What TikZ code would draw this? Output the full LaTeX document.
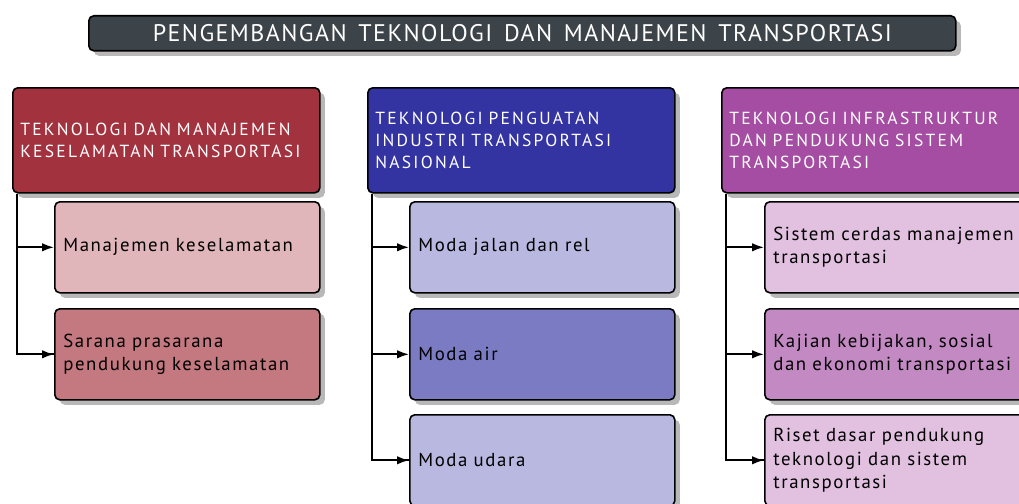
\documentclass[tikz,border=0pt]{standalone}
\usepackage{fontspec}
\setmainfont{PT Sans}
\newfontfamily\titlefont[LetterSpace=6,WordSpace=1.5]{PT Sans}
\newfontfamily\hdrfont[LetterSpace=13,WordSpace=1.8]{PT Sans}
\newfontfamily\childfont[LetterSpace=8.5,WordSpace=1.8]{PT Sans}
\usetikzlibrary{shadows,arrows.meta}
\definecolor{titlebg}{HTML}{3D4449}
\definecolor{redh}{HTML}{A3323F}
\definecolor{redl}{HTML}{E0B6BB}
\definecolor{redm}{HTML}{C47880}
\definecolor{blueh}{HTML}{3333A1}
\definecolor{bluel}{HTML}{B8B8E0}
\definecolor{bluem}{HTML}{7B7BC4}
\definecolor{purh}{HTML}{A54DA3}
\definecolor{purl}{HTML}{E1C0E0}
\definecolor{purm}{HTML}{C389C3}
\tikzset{
  boxbase/.style={draw=black, line width=1.6pt, rounded corners=5pt,
    drop shadow={shadow xshift=5pt, shadow yshift=-5pt, fill=black!28, opacity=1},
    anchor=north west, align=left, inner ysep=0pt},
  hdrbox/.style={boxbase, text=white, text width=292pt, inner xsep=7.5pt,
    minimum height=105pt, font=\hdrfont\fontsize{17.5}{21.8}\selectfont},
  childbox/.style={boxbase, text=black, text width=248pt, inner xsep=8.5pt,
    minimum height=91pt, font=\childfont\fontsize{18.8}{23.5}\selectfont},
  titlebox/.style={draw=black, line width=1.6pt, rounded corners=5pt,
    drop shadow={shadow xshift=5pt, shadow yshift=-5pt, fill=black!28, opacity=1},
    fill=titlebg, text=white, minimum width=867pt, minimum height=35pt,
    anchor=north west, inner sep=0pt, font=\titlefont\fontsize{24}{26}\selectfont},
  conn/.style={line width=1.8pt, -{Latex[length=12pt,width=8.5pt]}},
  trunk/.style={line width=1.8pt}
}
\begin{document}
\begin{tikzpicture}[x=1pt,y=-1pt]
\useasboundingbox (0,0) rectangle (1019,503);
\clip (0,0) rectangle (1019,503);
\node[titlebox] (title) at (88,15) {PENGEMBANGAN TEKNOLOGI DAN MANAJEMEN TRANSPORTASI};
% column 1
\node[hdrbox, fill=redh] (h1) at (12,87) {TEKNOLOGI DAN MANAJEMEN\\KESELAMATAN TRANSPORTASI};
\node[childbox, fill=redl] (c11) at (54,201) {Manajemen keselamatan};
\node[childbox, fill=redm] (c12) at (54,308) {Sarana prasarana\\pendukung keselamatan};
% column 2
\node[hdrbox, fill=blueh] (h2) at (367,87) {TEKNOLOGI PENGUATAN\\INDUSTRI TRANSPORTASI\\NASIONAL};
\node[childbox, fill=bluel] (c21) at (409,201) {Moda jalan dan rel};
\node[childbox, fill=bluem] (c22) at (409,308) {Moda air};
\node[childbox, fill=bluel] (c23) at (409,414) {Moda udara};
% column 3
\node[hdrbox, fill=purh] (h3) at (721,87) {TEKNOLOGI INFRASTRUKTUR\\DAN PENDUKUNG SISTEM\\TRANSPORTASI};
\node[childbox, fill=purl] (c31) at (764,201) {Sistem cerdas manajemen\\transportasi};
\node[childbox, fill=purm] (c32) at (764,308) {Kajian kebijakan, sosial\\dan ekonomi transportasi};
\node[childbox, fill=purl] (c33) at (764,414) {Riset dasar pendukung\\teknologi dan sistem\\transportasi};
% connectors
\coordinate (t1) at ([xshift=5pt]h1.south west);
\coordinate (t2) at ([xshift=5pt]h2.south west);
\coordinate (t3) at ([xshift=5pt]h3.south west);
\draw[trunk] (t1) |- (c12.west);
\draw[conn] (t1 |- c11.west) -- (c11.west);
\draw[conn] (t1 |- c12.west) -- (c12.west);
\draw[trunk] (t2) |- (c23.west);
\draw[conn] (t2 |- c21.west) -- (c21.west);
\draw[conn] (t2 |- c22.west) -- (c22.west);
\draw[conn] (t2 |- c23.west) -- (c23.west);
\draw[trunk] (t3) |- (c33.west);
\draw[conn] (t3 |- c31.west) -- (c31.west);
\draw[conn] (t3 |- c32.west) -- (c32.west);
\draw[conn] (t3 |- c33.west) -- (c33.west);
\end{tikzpicture}
\end{document}
